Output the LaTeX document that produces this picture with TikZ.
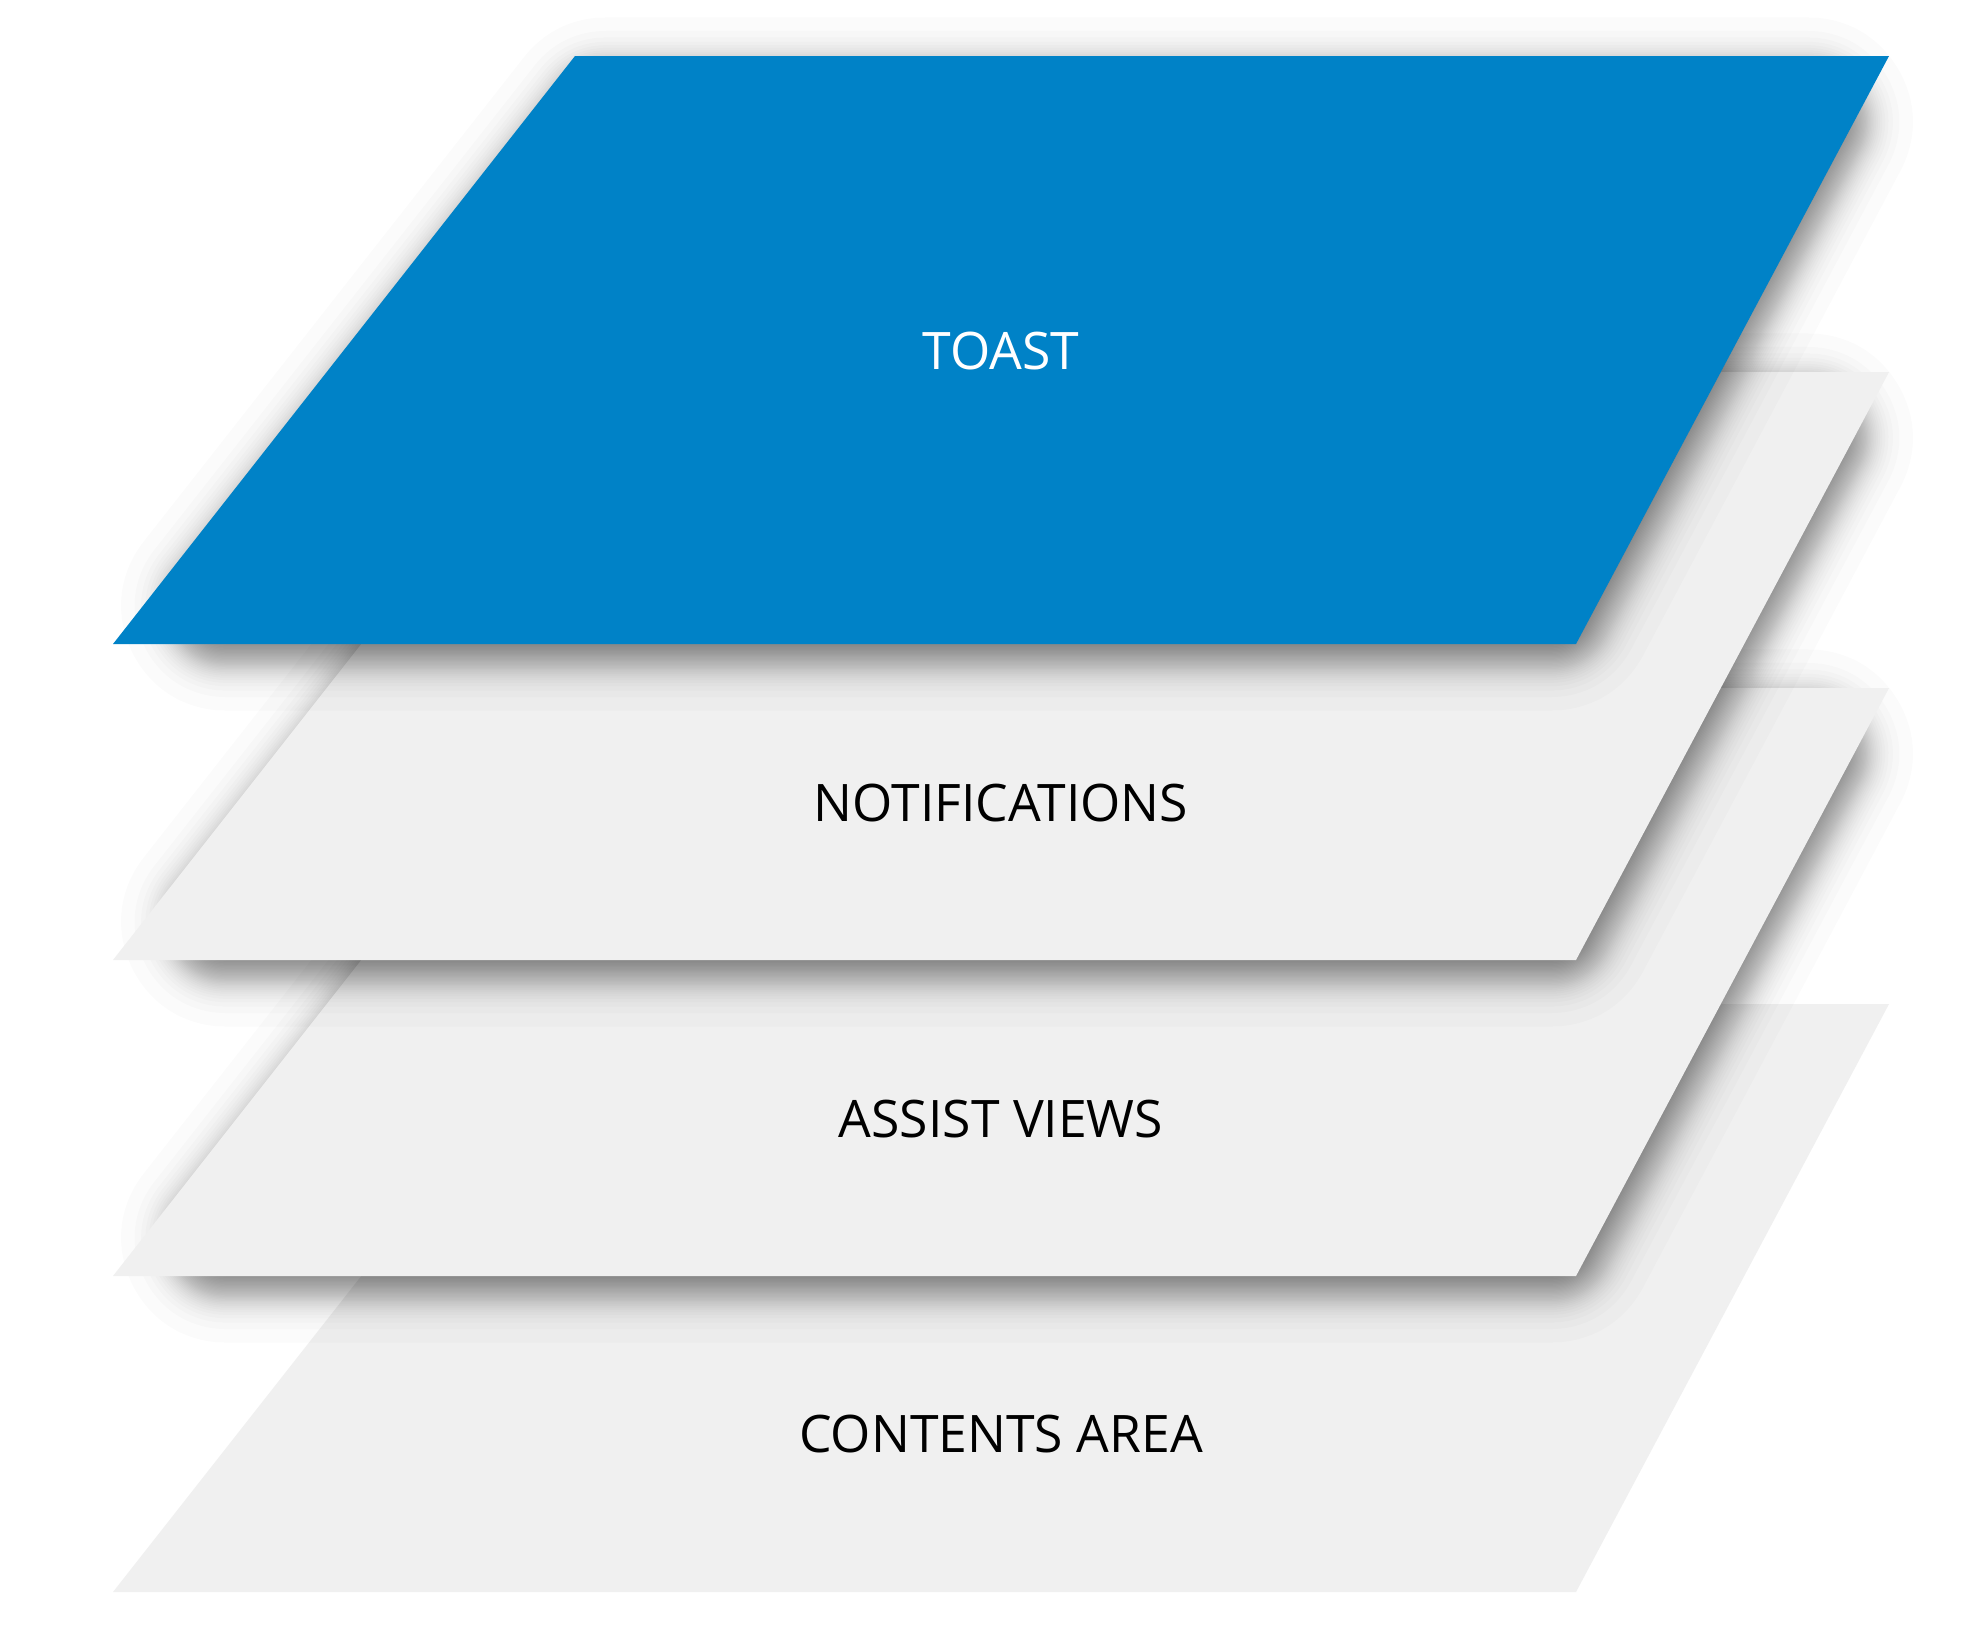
\documentclass[tikz,border=0pt]{standalone}
\usepackage{fontspec}
\setmainfont{Open Sans}
\definecolor{toastblue}{RGB}{0,130,199}
\definecolor{planegray}{RGB}{240,240,240}
\newcommand{\planepath}[1]{(575,#1) -- (1889,#1) -- (1576,#1+588) -- (113,#1+588) -- cycle}
% the same plane, shrunk by 52 units, as core of the shadow
\newcommand{\shadowpath}[1]{(600,#1+52) -- (1802,#1+52) -- (1545,#1+536) -- (220,#1+536) -- cycle}

\begin{document}
\begin{tikzpicture}[x=0.01cm, y=-0.01cm,
		plane text/.style={font=\fontsize{14.7pt}{18pt}\selectfont}]
		\fill[white] (0,0) rectangle (1981,1648);
		\useasboundingbox (0,0) rectangle (1981,1648);

		% bottom layer, lies on the page
		\fill[planegray] \planepath{1004};

		% raised layers, each with a soft shadow
		\foreach \t/\c in {688/planegray, 372/planegray, 56/toastblue} {
			\foreach \i in {1,...,40} {
				\pgfmathsetmacro\w{0.02*max(52+12*ln((\i-0.5)/(40.5-\i)),0.5)}
				\begin{scope}[shift={(6,14)}, transparency group, opacity=0.0148]
					\filldraw[black, line width=\w cm, line join=round] \shadowpath{\t};
				\end{scope}
			}
			\fill[\c] \planepath{\t};
		}

		\node[plane text, white] (toast) at (1001,351) {TOAST};
		\node[plane text] (notif) at (1001,803) {NOTIFICATIONS};
		\node[plane text] (assist) at (1001,1119) {ASSIST VIEWS};
		\node[plane text] (contents) at (1001,1434) {CONTENTS AREA};
\end{tikzpicture}
\end{document}
